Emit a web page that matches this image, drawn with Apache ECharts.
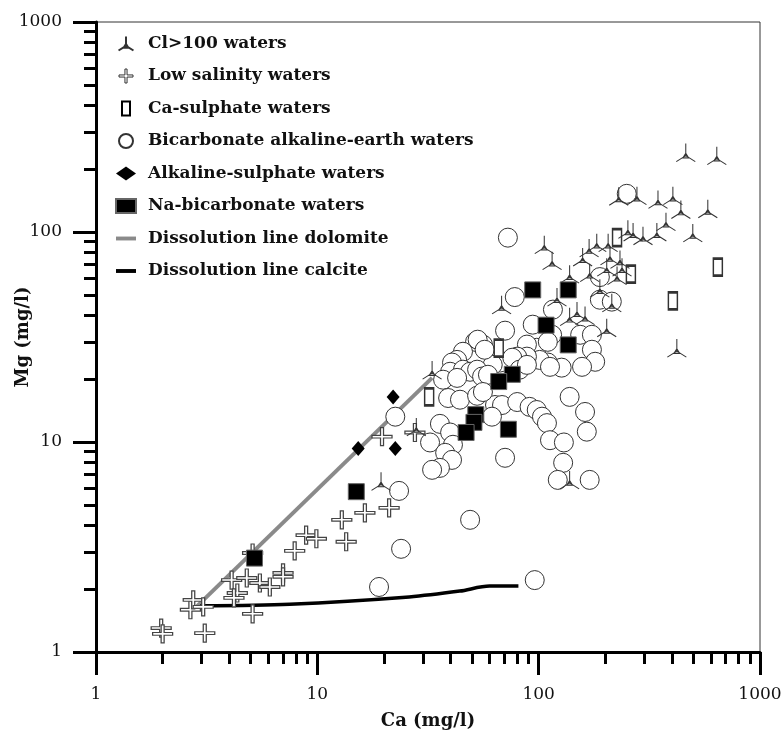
<!DOCTYPE html>
<html>
<head>
<meta charset="utf-8">
<script src="https://cdn.jsdelivr.net/npm/echarts@6/dist/echarts.min.js"></script>
<style>
  html, body { margin: 0; padding: 0; background: #fff; }
  #chart { width: 784px; height: 736px; }
</style>
</head>
<body>
<div id="chart"></div>
<script>
// Ca (mg/l), Mg (mg/l) pairs
const clWaters = [
  [462, 239], [638, 231], [230, 148], [278, 149], [346, 143], [404, 149], [439, 128], [581, 129],
  [376, 112], [497, 99], [342, 100], [296, 96], [253, 103], [267, 100], [183, 89], [206, 89],
  [169, 84], [106, 87], [115, 73], [158, 76], [210, 77], [233, 74], [203, 68], [238, 68],
  [226, 62], [138, 63], [170, 64], [189, 54], [214, 46], [149, 42], [162, 40], [138, 39.5],
  [203, 35], [121, 49], [68, 45], [33, 22], [28, 11.8], [19.4, 6.5], [421, 28], [138, 6.6]
];
const lowSalinity = [
  [1.97, 1.3], [2.0, 1.22], [3.1, 1.23], [2.67, 1.59], [2.75, 1.77], [3.05, 1.64], [5.1, 1.52],
  [4.1, 2.2], [4.35, 1.91], [4.2, 1.81], [4.8, 2.25], [5.5, 2.13], [6.1, 2.04], [7.0, 2.38],
  [7.0, 2.28], [5.1, 2.96], [7.9, 3.03], [8.9, 3.6], [9.9, 3.46], [12.9, 4.26], [13.5, 3.35],
  [16.4, 4.6], [21.1, 4.86], [19.6, 10.6], [27.6, 11.1]
];
const caSulphate = [[32, 16.4], [66, 28], [226, 94], [261, 63], [645, 68], [404, 47]];
const bicarbonate = [
  [72.6, 94], [250, 152], [78, 49], [116, 42.7], [189, 61], [189, 47.6], [214, 46.6], [70.5, 33.9],
  [94, 36.2], [115, 32.4], [154, 32.4], [174, 32.4], [98, 28.1], [88.5, 29.1], [110, 30], [174, 27.5],
  [180, 24.1], [157, 22.8], [127, 22.6], [110, 23.9], [101, 24.6], [88.5, 25.5], [80, 25.5], [67, 23.9],
  [62, 23.3], [76, 25.2], [56, 29.1], [51.6, 30], [53, 30.7], [57, 27.5], [45.5, 26.9], [42.8, 24.6],
  [40.6, 23.9], [39.8, 21.6], [45.5, 22.1], [49, 21.6], [52.7, 22.1], [55.5, 20.5], [59, 20.9],
  [37, 19.8], [42.8, 20.2], [39, 16.2], [44.1, 15.9], [52.7, 16.6], [63.5, 15], [68.3, 15], [80, 15.5],
  [91, 14.7], [98, 14.2], [103.5, 13.2], [109, 12.3], [61.5, 13.2], [22.5, 13.2], [35.8, 12.2],
  [39.8, 11.1], [32.3, 9.95], [41, 9.7], [37.8, 8.88], [40.6, 8.22], [35.8, 7.53], [33, 7.37],
  [70.5, 8.41], [138, 16.4], [162, 13.9], [165, 11.2], [112.5, 10.2], [130, 9.95], [129, 7.96],
  [122, 6.6], [170, 6.6], [23.4, 5.85], [23.9, 3.1], [49, 4.26], [19, 2.04], [96, 2.2], [82, 22.1],
  [112.5, 22.8], [56, 17.3], [88.5, 23.3]
];
const alkSulphate = [[22, 16.4], [15.3, 9.3], [22.5, 9.3]];
const naBicarbonate = [
  [94, 53], [136, 53], [108, 36], [136, 29], [76, 21], [66, 19.4], [52, 13.5], [51, 12.4],
  [47, 11.1], [73, 11.5], [15, 5.8], [5.2, 2.8]
];
const dolomiteLine = [[2.84, 1.64], [33, 20.2]];
const calciteLine = [[2.96, 1.66], [7.5, 1.69], [26, 1.83], [44, 1.95], [60, 2.06], [81, 2.06]];

const majorTicks = [1, 10, 100, 1000];
const minorTicks = [2, 3, 4, 5, 6, 7, 8, 9, 20, 30, 40, 50, 60, 70, 80, 90, 200, 300, 400, 500, 600, 700, 800, 900];

const names = [
  "Cl>100 waters",
  "Low salinity waters",
  "Ca-sulphate waters",
  "Bicarbonate alkaline-earth waters",
  "Alkaline-sulphate waters",
  "Na-bicarbonate waters",
  "Dissolution line dolomite",
  "Dissolution line calcite"
];

const triPath = "path://M0,-9L0,1M0,1L-8,6M0,1L8,6M-2.5,3L0,-1L2.5,3Z";
const plusPath = "path://M-1.5,-10H1.5V-1.5H10V1.5H1.5V10H-1.5V1.5H-10V-1.5H-1.5Z";
const rectPath = "path://M0,0H8V14H0Z";
const barPath = "path://M0,0H18V3.5H0Z";

const serif = "DejaVu Serif";
const chart = echarts.init(document.getElementById("chart"));

const mainAxis = (name, gap) => ({
  type: "log",
  logBase: 10,
  min: 1,
  max: 1000,
  name: name,
  nameLocation: "middle",
  nameGap: gap,
  nameMoveOverlap: false,
  nameTextStyle: { fontFamily: serif, fontWeight: "bold", fontSize: 18, color: "#111" },
  axisLine: { lineStyle: { color: "#000", width: 3 } },
  axisTick: { customValues: majorTicks, length: 23, lineStyle: { color: "#000", width: 3 } },
  axisLabel: {
    customValues: majorTicks, margin: 34, fontFamily: serif, fontSize: 17, color: "#111",
    formatter: (v) => String(v)
  },
  splitLine: { show: false }
});

const minorAxis = (pos) => ({
  type: "log",
  logBase: 10,
  min: 1,
  max: 1000,
  position: pos,
  axisLine: { show: false },
  axisLabel: { show: false },
  splitLine: { show: false },
  axisTick: { customValues: minorTicks, length: 12, lineStyle: { color: "#000", width: 3 } }
});

const option = {
  backgroundColor: "#fff",
  animation: false,
  grid: {
    left: 96, right: 24, top: 22, bottom: 84,
    show: true, borderColor: "#333", borderWidth: 1,
    outerBoundsMode: "none"
  },
  legend: {
    orient: "vertical",
    left: 110,
    top: 30,
    itemWidth: 20,
    itemHeight: 14,
    itemGap: 15.5,
    textStyle: { fontFamily: serif, fontWeight: "bold", fontSize: 17, color: "#111", padding: [0, 0, 0, 7] },
    data: [
      { name: names[0], icon: triPath },
      { name: names[1], icon: plusPath, itemStyle: { color: "#fff", borderColor: "#333", borderWidth: 1 } },
      { name: names[2], icon: rectPath, itemStyle: { color: "#fff", borderColor: "#000", borderWidth: 2 } },
      { name: names[3], icon: "circle" },
      { name: names[4], icon: "diamond" },
      { name: names[5], icon: "rect" },
      { name: names[6], icon: barPath },
      { name: names[7], icon: barPath }
    ]
  },
  xAxis: [
    Object.assign(mainAxis("Ca (mg/l)", 60), { position: "bottom" }),
    minorAxis("bottom")
  ],
  yAxis: [
    Object.assign(mainAxis("Mg (mg/l)", 64), { position: "left" }),
    minorAxis("left")
  ],
  series: [
    {
      name: names[6], type: "line", data: dolomiteLine, z: 1,
      symbol: "none", lineStyle: { color: "#8a8a8a", width: 4 }, itemStyle: { color: "#8a8a8a" }
    },
    {
      name: names[7], type: "line", data: calciteLine, z: 1, smooth: 0.3,
      symbol: "none", lineStyle: { color: "#000", width: 3.5 }, itemStyle: { color: "#000" }
    },
    {
      name: names[3], type: "scatter", data: bicarbonate, z: 2,
      symbol: "circle", symbolSize: 19,
      itemStyle: { color: "#fff", borderColor: "#333", borderWidth: 1, opacity: 1 }
    },
    {
      name: names[1], type: "scatter", data: lowSalinity, z: 3,
      symbol: plusPath, symbolSize: [20, 18],
      itemStyle: { color: "#fff", borderColor: "#444", borderWidth: 1.2, opacity: 1 }
    },
    {
      name: names[2], type: "scatter", data: caSulphate, z: 4,
      symbol: "rect", symbolSize: [9, 17],
      itemStyle: { color: "#fff", borderColor: "#333", borderWidth: 2, opacity: 1 }
    },
    {
      name: names[0], type: "scatter", data: clWaters, z: 5,
      symbol: triPath, symbolSize: [19, 18],
      itemStyle: { color: "#bbb", borderColor: "#333", borderWidth: 1, opacity: 1 }
    },
    {
      name: names[4], type: "scatter", data: alkSulphate, z: 6,
      symbol: "diamond", symbolSize: [13, 15],
      itemStyle: { color: "#000", opacity: 1 }
    },
    {
      name: names[5], type: "scatter", data: naBicarbonate, z: 7,
      symbol: "rect", symbolSize: 16,
      itemStyle: { color: "#000", borderColor: "#666", borderWidth: 1, opacity: 1 }
    }
  ]
};

chart.setOption(option);
</script>
</body>
</html>
